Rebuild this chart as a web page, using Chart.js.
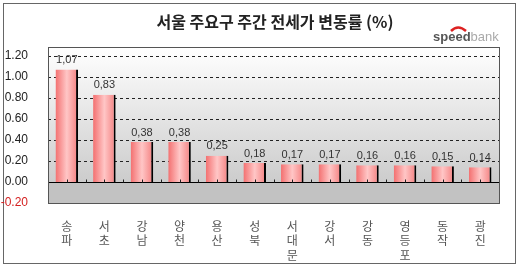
<!DOCTYPE html>
<html>
<head>
<meta charset="utf-8">
<script src="https://cdn.jsdelivr.net/npm/chart.js@4/dist/chart.umd.min.js"></script>
<style>
    html, body { margin: 0; padding: 0; background: #fff; }
    #wrap { width: 520px; height: 269px; }
</style>
</head>
<body>
<div id="wrap"><canvas id="myChart" width="520" height="269"></canvas></div>
<script>
'use strict';

var categories = ['송파', '서초', '강남', '양천', '용산', '성북', '서대문', '강서', '강동', '영등포', '동작', '광진'];
var changeRates = [1.07, 0.83, 0.38, 0.38, 0.25, 0.18, 0.17, 0.17, 0.16, 0.16, 0.15, 0.14];
var yTicks = [-0.2, 0, 0.2, 0.4, 0.6, 0.8, 1.0, 1.2];
var titleText = '서울 주요구 주간 전세가 변동률 (%)';

var korFont = '"Noto Sans CJK KR", "Noto Sans", sans-serif';
var numFont = '"Liberation Sans", Arial, sans-serif';

// stacked vertical labels, one syllable per line
var xLabels = categories.map(function (c) { return c.split(''); });

function barFill(context) {
    var chart = context.chart;
    var area = chart.chartArea;
    if (!area || context.dataIndex === undefined) {
        return '#f59a9a';
    }
    var x = chart.scales.x.getPixelForValue(context.dataIndex);
    var w = area.width / categories.length * 0.6;
    var g = chart.ctx.createLinearGradient(x - w / 2, 0, x + w / 2, 0);
    g.addColorStop(0, '#f37070');
    g.addColorStop(0.5, '#ffc6c6');
    g.addColorStop(1, '#f47f7f');
    return g;
}

var decor = {
    id: 'decor',
    beforeDraw: function (chart) {
        var c = chart.ctx;
        var a = chart.chartArea;
        var y0 = chart.scales.y.getPixelForValue(0);
        c.save();
        c.fillStyle = '#fff';
        c.fillRect(0, 0, chart.width, chart.height);
        c.strokeStyle = '#666';
        c.lineWidth = 1;
        c.strokeRect(3.5, 3.5, 512, 260);

        var g = c.createLinearGradient(0, a.top, 0, y0);
        g.addColorStop(0, '#ffffff');
        g.addColorStop(1, '#cccccc');
        c.fillStyle = g;
        c.fillRect(a.left, a.top, a.width, y0 - a.top);
        c.fillStyle = '#c2c2c2';
        c.fillRect(a.left, y0, a.width, a.bottom - y0);
        c.restore();
    },
    beforeDatasetsDraw: function (chart) {
        var c = chart.ctx;
        var a = chart.chartArea;
        var ys = chart.scales.y;
        c.save();
        c.strokeStyle = '#222';
        c.lineWidth = 1;
        c.setLineDash([3, 3]);
        yTicks.forEach(function (v) {
            if (v <= 0) {
                return;
            }
            var py = Math.round(ys.getPixelForValue(v)) + 0.5;
            c.beginPath();
            c.moveTo(a.left, py);
            c.lineTo(a.right, py);
            c.stroke();
        });
        c.restore();
    },
    afterDatasetsDraw: function (chart) {
        var c = chart.ctx;
        var a = chart.chartArea;
        var y0 = Math.round(chart.scales.y.getPixelForValue(0)) + 0.5;
        var step = a.width / categories.length;
        c.save();
        // zero line
        c.strokeStyle = '#000';
        c.lineWidth = 1;
        c.beginPath();
        c.moveTo(a.left, y0);
        c.lineTo(a.right, y0);
        c.stroke();
        // little tick marks on the zero line
        c.strokeStyle = '#222';
        c.beginPath();
        for (var i = 0; i <= categories.length * 2; i++) {
            var tx = Math.round(a.left + i * step / 2) + 0.5;
            c.moveTo(tx, y0);
            c.lineTo(tx, y0 - 3);
        }
        c.stroke();
        // plot frame
        c.strokeStyle = '#555';
        c.strokeRect(Math.round(a.left) + 0.5, Math.round(a.top) + 0.5, Math.round(a.width), Math.round(a.height));
        // value labels
        c.fillStyle = '#333';
        c.font = '11px ' + numFont;
        c.textAlign = 'center';
        c.textBaseline = 'bottom';
        chart.getDatasetMeta(0).data.forEach(function (bar, idx) {
            var txt = changeRates[idx].toFixed(2).replace('.', ',');
            c.fillText(txt, bar.x, bar.y - 4);
        });
        c.restore();
    },
    afterDraw: function (chart) {
        var c = chart.ctx;
        c.save();
        c.fillStyle = '#222';
        c.font = 'bold 16px ' + korFont;
        c.textAlign = 'center';
        c.textBaseline = 'middle';
        c.fillText(titleText, 275, 22);

        // speedbank logo
        c.textAlign = 'left';
        c.textBaseline = 'alphabetic';
        c.font = 'bold 13px ' + numFont;
        c.fillStyle = '#555';
        c.fillText('speed', 433, 41);
        var sw = c.measureText('speed').width;
        c.font = '13px ' + numFont;
        c.fillStyle = '#aaa';
        c.fillText('bank', 433 + sw, 41);
        c.strokeStyle = '#d22';
        c.lineWidth = 2.5;
        c.beginPath();
        c.moveTo(451, 31);
        c.quadraticCurveTo(458, 24, 466, 31);
        c.stroke();
        c.restore();
    }
};

var ctx = document.getElementById('myChart').getContext('2d');
var myBarChart = new Chart(ctx, {
    type: 'bar',
    data: {
        labels: xLabels,
        datasets: [{
            data: changeRates,
            backgroundColor: barFill,
            borderColor: '#000',
            borderWidth: { top: 0, right: 2, bottom: 0, left: 0 },
            borderSkipped: false,
            categoryPercentage: 1,
            barPercentage: 0.6
        }]
    },
    options: {
        responsive: false,
        animation: false,
        devicePixelRatio: 1,
        layout: {
            padding: { left: 0, top: 47, right: 21, bottom: 0 }
        },
        plugins: {
            legend: { display: false },
            tooltip: { enabled: false },
            title: { display: false }
        },
        scales: {
            x: {
                grid: { display: false },
                border: { display: false },
                ticks: {
                    color: '#555',
                    font: { family: korFont, size: 12, lineHeight: 1.2 },
                    padding: 8,
                    maxRotation: 0,
                    autoSkip: false
                },
                afterFit: function (scale) {
                    scale.height = 66;
                }
            },
            y: {
                min: -0.2,
                max: 1.285,
                afterBuildTicks: function (scale) {
                    scale.ticks = yTicks.map(function (v) { return { value: v }; });
                },
                grid: { display: false },
                border: { display: false },
                ticks: {
                    padding: 12,
                    font: { family: numFont, size: 12 },
                    color: function (context) {
                        return context.tick.value < 0 ? '#d42020' : '#222';
                    },
                    callback: function (value) {
                        return Number(value).toFixed(2);
                    }
                },
                afterFit: function (scale) {
                    scale.width = 48;
                }
            }
        }
    },
    plugins: [decor]
});
</script>
</body>
</html>
